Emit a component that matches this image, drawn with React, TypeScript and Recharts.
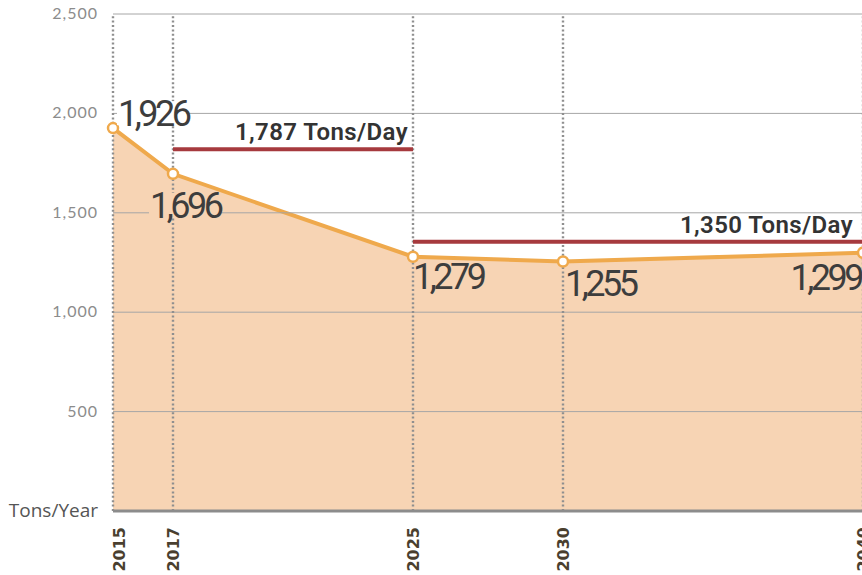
import { AreaChart, Area, XAxis, YAxis, ReferenceLine, LabelList } from 'recharts';

// tons per year
const years = [2015, 2017, 2025, 2030, 2040];
const tonsPerYear = [1926, 1696, 1279, 1255, 1299];
const yTicks = [0, 500, 1000, 1500, 2000, 2500];

// daily average bars (level = where the bar sits on the y scale)
const dailyLabels = ['1,787 Tons/Day', '1,350 Tons/Day'];
const dailyFrom = [2017, 2025];
const dailyTo = [2025, 2040];
const dailyLevel = [1820, 1355];

const data = years.map((year, i) => ({ year, tons: tonsPerYear[i] }));

const ORANGE = '#efa94c';
const PEACH = '#f7d4b4';
const RED = '#a63a3e';

// where each value label sits relative to its point
const labelPlacement = [
  { dx: 5, dy: -2, anchor: 'start', bg: '#ffffff' },
  { dx: -23, dy: 44, anchor: 'start', bg: PEACH },
  { dx: 0, dy: 32, anchor: 'start', bg: null },
  { dx: 2, dy: 34, anchor: 'start', bg: null },
  { dx: -2, dy: 37, anchor: 'end', bg: null },
];

const renderValueLabel = (props: any) => {
  const { x, y, value, index } = props;
  const p = labelPlacement[index];
  const tx = x + p.dx;
  const ty = y + p.dy;
  return (
    <g>
      {p.bg && <rect x={tx - 1} y={ty - 25} width={72} height={24} fill={p.bg} />}
      <text
        x={tx}
        y={ty}
        textAnchor={p.anchor}
        fontFamily="Roboto"
        fontSize={36}
        letterSpacing={-3.5}
        fill="#3d3d3d"
      >
        {Number(value).toLocaleString('en-US')}
      </text>
    </g>
  );
};

const YTick = (props: any) => {
  const { x, y, payload } = props;
  if (payload.value === 0) {
    return (
      <text x={x} y={y} dy={6} textAnchor="end" fontFamily="Open Sans" fontSize={19} fill="#555">
        Tons/Year
      </text>
    );
  }
  return (
    <text x={x} y={y} dy={5} textAnchor="end" fontFamily="Lato" fontSize={16} letterSpacing={1} fill="#8c8c8c">
      {payload.value.toLocaleString('en-US')}
    </text>
  );
};

const XTick = (props: any) => {
  const { x, y, payload, index } = props;
  const shift = index === 0 ? 12 : 6;
  return (
    <g transform={`translate(${x + shift},${y})`}>
      <text transform="rotate(-90)" textAnchor="end" fontFamily="DejaVu Sans" fontWeight="bold" fontSize={16} fill="#4a3f2f">
        {payload.value}
      </text>
    </g>
  );
};

const dailyLabel = (text: string, inset: number) => (props: any) => {
  const { viewBox } = props;
  return (
    <text
      x={viewBox.x + viewBox.width - inset}
      y={viewBox.y - 9}
      textAnchor="end"
      fontFamily="Roboto"
      fontWeight={600}
      fontSize={24}
      letterSpacing={0.4}
      fill="#333"
    >
      {text}
    </text>
  );
};

export default function App() {
  return (
    <div style={{ position: 'absolute', left: 0, top: 0, width: 862, height: 575, overflow: 'hidden', background: '#fff' }}>
      <AreaChart width={880} height={575} data={data} margin={{ top: 14, right: 17, bottom: 0, left: 0 }}>
        <XAxis
          dataKey="year"
          type="number"
          domain={[2015, 2040]}
          ticks={years}
          tick={<XTick />}
          tickLine={false}
          tickSize={0}
          tickMargin={16}
          height={64}
          axisLine={{ stroke: '#8c8c8c', strokeWidth: 3 }}
          interval={0}
        />
        <YAxis
          domain={[0, 2500]}
          ticks={yTicks}
          tick={<YTick />}
          tickLine={false}
          axisLine={false}
          tickSize={0}
          tickMargin={15}
          width={113}
          interval={0}
        />
        <Area
          type="linear"
          dataKey="tons"
          stroke={ORANGE}
          strokeWidth={4}
          fill={PEACH}
          fillOpacity={1}
          dot={{ r: 5, fill: '#fff', stroke: ORANGE, strokeWidth: 2.5 }}
          isAnimationActive={false}
        >
          <LabelList dataKey="tons" content={renderValueLabel} />
        </Area>
        {yTicks.filter((t) => t > 0).map((t) => (
          <ReferenceLine key={`h${t}`} y={t} stroke="#a6a6a6" strokeWidth={1} />
        ))}
        {years.map((yr) => (
          <ReferenceLine key={`v${yr}`} x={yr} stroke="#8f8f8f" strokeWidth={2.4} strokeDasharray="2 2.4" />
        ))}
        {dailyLabels.map((lbl, i) => (
          <ReferenceLine
            key={lbl}
            segment={[
              { x: dailyFrom[i], y: dailyLevel[i] },
              { x: dailyTo[i], y: dailyLevel[i] },
            ]}
            stroke={RED}
            strokeWidth={4}
            label={dailyLabel(lbl, i === 0 ? 5 : 10)}
          />
        ))}
      </AreaChart>
    </div>
  );
}
